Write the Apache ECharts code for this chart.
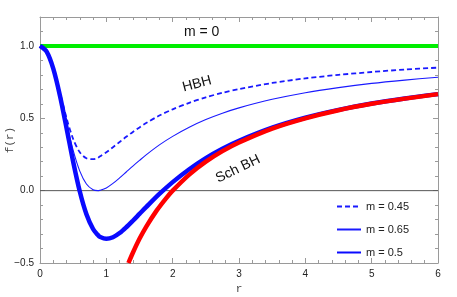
<!DOCTYPE html>
<html><head><meta charset="utf-8">
<script src="https://cdn.jsdelivr.net/npm/echarts@6/dist/echarts.min.js"></script>
<style>html,body{margin:0;padding:0;background:#fff}#c{width:457px;height:297px}</style>
</head><body><div id="c"></div>
<script>
// r values and f(r) values
const rHBH = [0,0.1,0.2,0.3,0.4,0.5,0.6,0.7,0.8,0.87,0.9,1.0,1.1,1.2,1.3,1.4,1.5,1.6,1.8,2.0,2.25,2.5,2.75,3.0,3.5,4.0,4.5,5.0,5.5,6.0];
const fDashed045 = [1,0.960,0.845,0.679,0.502,0.357,0.265,0.224,0.218,0.225,0.236,0.265,0.300,0.336,0.372,0.406,0.437,0.467,0.519,0.562,0.607,0.645,0.676,0.702,0.744,0.776,0.800,0.820,0.837,0.850];
const fThin065 = [1,0.960,0.844,0.668,0.465,0.278,0.135,0.046,0.006,0.000,0.002,0.019,0.050,0.088,0.129,0.170,0.209,0.247,0.316,0.375,0.438,0.491,0.535,0.572,0.631,0.677,0.712,0.741,0.764,0.784];
const fThick05 = [1,0.960,0.843,0.658,0.433,0.200,-0.006,-0.163,-0.265,-0.305,-0.318,-0.333,-0.322,-0.293,-0.253,-0.208,-0.161,-0.114,-0.023,0.059,0.148,0.225,0.290,0.345,0.435,0.504,0.558,0.602,0.637,0.667];
const rSch = [1.333,1.4,1.5,1.6,1.75,1.9,2.0,2.25,2.5,2.75,3.0,3.5,4.0,4.5,5.0,5.5,6.0];
const fSch = [-0.5,-0.429,-0.333,-0.25,-0.143,-0.053,0,0.111,0.2,0.273,0.333,0.429,0.5,0.556,0.6,0.636,0.667];
const rFlat = [0,6];
const fFlat = [1,1];
const xTicks = [0,1,2,3,4,5,6];
const yTicks = [-0.5,0,0.5,1.0];

const pair = (xs, ys) => xs.map((x,i)=>[x, ys[i]]);
const chart = echarts.init(document.getElementById('c'));
const frame = '#9a9a9a';
const font = 'Liberation Sans, Arial, sans-serif';
const mono = 'Liberation Mono, DejaVu Sans Mono, monospace';
const baseAxis = {
  type:'value', axisLine:{show:true, onZero:false, lineStyle:{color:frame, width:1}},
  axisTick:{show:true, inside:true, length:5, lineStyle:{color:frame}},
  minorTick:{show:true, splitNumber:5, length:3, lineStyle:{color:frame}},
  splitLine:{show:false}
};
chart.setOption({
  animation:false,
  grid:{left:40, right:19, top:17, bottom:34, containLabel:false, outerBoundsMode:'none'},
  xAxis:[
    Object.assign({}, baseAxis, {min:0, max:6, interval:1, position:'bottom',
      axisLabel:{color:'#222', fontSize:10, fontFamily:font, margin:6},
      name:'r', nameLocation:'middle', nameGap:19,
      nameTextStyle:{fontFamily:mono, fontSize:11, color:'#444'}}),
    Object.assign({}, baseAxis, {min:0, max:6, interval:1, position:'top', axisLabel:{show:false}})
  ],
  yAxis:[
    Object.assign({}, baseAxis, {min:-0.5, max:1.2, interval:0.5, position:'left',
      axisLabel:{color:'#222', fontSize:10, fontFamily:font, margin:6, showMaxLabel:false,
        formatter:v=> (yTicks.some(t=>Math.abs(t-v)<1e-9) ? v.toFixed(1).replace('-','\u2212') : '')}}),
    Object.assign({}, baseAxis, {min:-0.5, max:1.2, interval:0.5, position:'right', axisLabel:{show:false}})
  ],
  legend:{
    orient:'vertical', left:331, top:196, itemGap:12, itemWidth:24, itemHeight:10,
    itemStyle:{opacity:0},
    textStyle:{fontSize:11, fontFamily:font, color:'#222'},
    data:['m = 0.45','m = 0.65','m = 0.5']
  },
  series:[
    {name:'zero', type:'line', data:pair(rFlat,[0,0]), symbol:'none', silent:true,
      lineStyle:{color:'#555', width:1}, z:1},
    {name:'m = 0', type:'line', data:pair(rFlat,fFlat), symbol:'none',
      lineStyle:{color:'#00ee00', width:4}, itemStyle:{color:'#00ee00'}, z:2},
    {name:'m = 0.45', type:'line', data:pair(rHBH,fDashed045), symbol:'none', smooth:0.3,
      lineStyle:{color:'#1a1aff', width:1.8, type:[5,3]}, itemStyle:{color:'#1a1aff'}, z:3},
    {name:'m = 0.65', type:'line', data:pair(rHBH,fThin065), symbol:'none', smooth:0.3,
      lineStyle:{color:'#1a1aff', width:1.1}, itemStyle:{color:'#1a1aff'}, z:3},
    {name:'m = 0.5', type:'line', data:pair(rHBH,fThick05), symbol:'none', smooth:0.3,
      lineStyle:{color:'#0a0aff', width:4.5}, itemStyle:{color:'#0a0aff'}, z:4},
    {name:'Sch BH', type:'line', data:pair(rSch,fSch), symbol:'none', smooth:0.3,
      lineStyle:{color:'#ff0000', width:4.5}, itemStyle:{color:'#ff0000'}, z:5}
  ],
  graphic:[
    {type:'text', x:10, y:140, rotation:Math.PI/2,
      style:{text:'f(r)', font:'11px '+mono, fill:'#444', align:'center', verticalAlign:'middle'}},
    {type:'text', left:184, top:25, style:{text:'m = 0', font:'14px '+font, fill:'#111'}},
    {type:'text', x:197, y:84, rotation:0.26,
      style:{text:'HBH', font:'14px '+font, fill:'#111', align:'center', verticalAlign:'middle'}},
    {type:'text', x:238, y:169, rotation:0.45,
      style:{text:'Sch BH', font:'14px '+font, fill:'#111', align:'center', verticalAlign:'middle'}}
  ]
});
</script></body></html>
